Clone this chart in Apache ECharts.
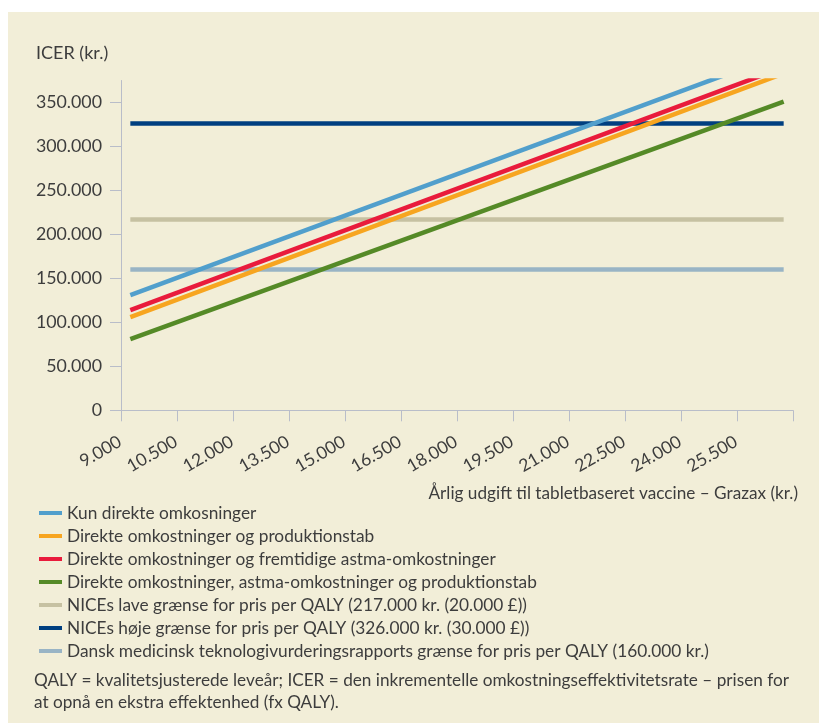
<!DOCTYPE html>
<html>
<head>
<meta charset="utf-8">
<script src="https://cdn.jsdelivr.net/npm/echarts@6/dist/echarts.min.js"></script>
<style>
html,body{margin:0;padding:0;background:#ffffff;}
#chart{width:819px;height:727px;}
</style>
</head>
<body>
<div id="chart"></div>
<script>
// ---- data ----
const priceRange = [9000, 26500];            // x values of every line's endpoints (kr.)
const kunDirekte = [131000, 406000];
const direkteProduktion = [106000, 383000];
const direkteAstma = [114000, 390000];
const direkteAstmaProduktion = [81000, 351000];
const niceLav = [217000, 217000];
const niceHoej = [326000, 326000];
const danskGraense = [160000, 160000];

const seriesNames = [
  'Kun direkte omkosninger',
  'Direkte omkostninger og produktionstab',
  'Direkte omkostninger og fremtidige astma-omkostninger',
  'Direkte omkostninger, astma-omkostninger og produktionstab',
  'NICEs lave grænse for pris per QALY (217.000 kr. (20.000 £))',
  'NICEs høje grænse for pris per QALY (326.000 kr. (30.000 £))',
  'Dansk medicinsk teknologivurderingsrapports grænse for pris per QALY (160.000 kr.)'
];
const xTickValues = [8750, 10250, 11750, 13250, 14750, 16250, 17750, 19250, 20750, 22250, 23750, 25250, 26750];
const xLabelValues = [9000, 10500, 12000, 13500, 15000, 16500, 18000, 19500, 21000, 22500, 24000, 25500];
const yTickValues = [0, 50000, 100000, 150000, 200000, 250000, 300000, 350000];

const colors = ['#519fcc', '#f7a520', '#e91b3c', '#558a27', '#c6c1a2', '#003f80', '#99b4c5'];
const allValues = [kunDirekte, direkteProduktion, direkteAstma, direkteAstmaProduktion, niceLav, niceHoej, danskGraense];

const fmt = v => String(v).replace(/\B(?=(\d{3})+(?!\d))/g, '.');
const FONT = 'Lato, "Liberation Sans", sans-serif';
const TXT = '#3d3d3d';
const AXIS = '#b9bdc9';

const series = allValues.map((vals, i) => ({
  name: seriesNames[i],
  type: 'line',
  data: priceRange.map((x, j) => [x, vals[j]]),
  showSymbol: false,
  symbol: 'none',
  z: i < 4 ? 3 : 2,
  color: colors[i],
  lineStyle: { width: 4.5, color: colors[i], cap: 'butt' },
  emphasis: { disabled: true },
  animation: false
}));

const chart = echarts.init(document.getElementById('chart'), null, { renderer: 'canvas' });
chart.setOption({
  animation: false,
  textStyle: { fontFamily: FONT },
  graphic: [
    { type: 'rect', z: -100, silent: true, shape: { x: 8, y: 12, width: 811, height: 711 }, style: { fill: '#f2eed8' } },
    { type: 'text', left: 36, top: 44, style: { text: 'ICER (kr.)', font: '18px ' + FONT, fill: TXT } },
    { type: 'text', right: 21, top: 485, style: { text: 'Årlig udgift til tabletbaseret vaccine – Grazax (kr.)', font: '17.2px ' + FONT, fill: TXT } },
    { type: 'text', left: 34, top: 670, style: { text: 'QALY = kvalitetsjusterede leveår; ICER = den inkrementelle omkostningseffektivitetsrate – prisen for\nat opnå en ekstra effektenhed (fx QALY).', font: '17.2px ' + FONT, fill: TXT, lineHeight: 21.5 } }
  ],
  grid: { left: 121, right: 26, top: 80.5, bottom: 316.7, containLabel: false },
  legend: {
    orient: 'vertical',
    left: 34,
    top: 499,
    itemWidth: 23,
    itemHeight: 4,
    itemGap: 5,
    icon: 'rect',
    selectedMode: false,
    data: seriesNames,
    textStyle: { fontFamily: FONT, fontSize: 17.3, color: TXT, lineHeight: 18 }
  },
  xAxis: {
    type: 'value',
    min: 8750,
    max: 26750,
    splitLine: { show: false },
    axisLine: { show: true, lineStyle: { color: AXIS, width: 1 } },
    axisTick: { show: true, length: 11, lineStyle: { color: AXIS }, customValues: xTickValues },
    axisLabel: { customValues: xLabelValues, formatter: fmt, rotate: 30, margin: 24, padding: [0, 12, 0, 0], fontSize: 17.5, color: TXT, fontFamily: FONT }
  },
  yAxis: {
    type: 'value',
    min: 0,
    max: 375000,
    splitLine: { show: false },
    axisLine: { show: true, lineStyle: { color: AXIS, width: 1 } },
    axisTick: { show: true, length: 11, lineStyle: { color: AXIS }, customValues: yTickValues },
    axisLabel: { customValues: yTickValues, formatter: fmt, margin: 19, fontSize: 17.8, color: TXT, fontFamily: FONT }
  },
  series: series
});
</script>
</body>
</html>
